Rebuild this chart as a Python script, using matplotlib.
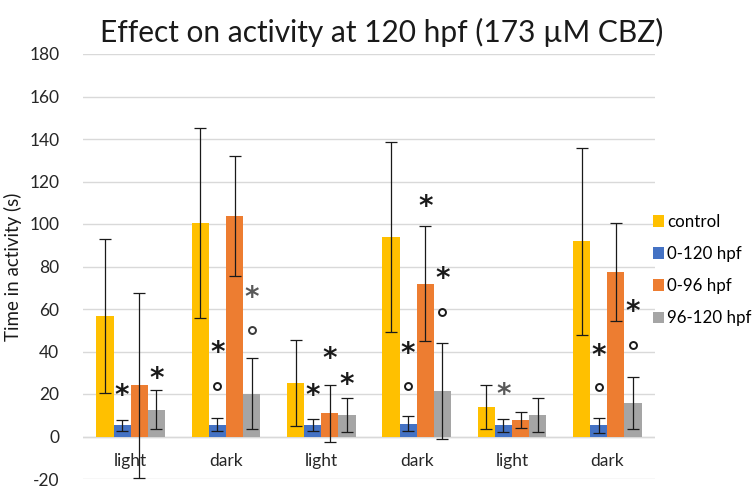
import matplotlib
matplotlib.use("Agg")
import matplotlib.pyplot as plt
from matplotlib.patches import Patch
import numpy as np

plt.rcParams['font.family'] = ['Lato', 'DejaVu Sans']
plt.rcParams['axes.unicode_minus'] = False

categories = ["light", "dark", "light", "dark", "light", "dark"]
series_names = ["control", "0-120 hpf", "0-96 hpf", "96-120 hpf"]
colors = ["#FFC000", "#4472C4", "#ED7D31", "#A5A5A5"]

control = [56.9, 100.7, 25.2, 93.8, 13.8, 91.8]
control_err = [36.2, 44.7, 20.4, 44.7, 10.4, 44.0]
h0_120 = [5.3, 5.6, 5.3, 6.0, 5.3, 5.2]
h0_120_err = [2.6, 3.0, 2.8, 3.6, 3.1, 3.5]
h0_96 = [24.1, 103.9, 10.9, 72.0, 7.8, 77.4]
h0_96_err = [43.5, 28.2, 13.5, 27.2, 3.6, 23.1]
h96_120 = [12.7, 20.2, 10.0, 21.3, 10.0, 15.8]
h96_120_err = [9.0, 16.6, 7.9, 22.5, 7.9, 12.2]

values = [control, h0_120, h0_96, h96_120]
errors = [control_err, h0_120_err, h0_96_err, h96_120_err]

# significance marks: (group, series, y, symbol, color)
mark_group = [0, 0, 1, 1, 1, 1, 2, 2, 2, 3, 3, 3, 3, 3, 4, 5, 5, 5, 5]
mark_series = [1, 3, 1, 1, 3, 3, 1, 2, 3, 1, 1, 2, 3, 3, 1, 1, 1, 3, 3]
mark_y = [22, 30, 42, 23.6, 68, 50, 22, 39.3, 27, 41.7, 23.6, 110.6, 76.8, 58.6, 22.4, 40.9, 23.4, 61.3, 43.2]
mark_sym = ["*", "*", "*", "o", "*", "o", "*", "*", "*", "*", "o", "*", "*", "o", "*", "*", "o", "*", "o"]
mark_col = ["#1a1a1a", "#1a1a1a", "#1a1a1a", "#1a1a1a", "#595959", "#3a3a3a", "#1a1a1a",
            "#1a1a1a", "#1a1a1a", "#1a1a1a", "#1a1a1a", "#1a1a1a", "#1a1a1a", "#1a1a1a",
            "#595959", "#1a1a1a", "#1a1a1a", "#1a1a1a", "#1a1a1a"]

fig = plt.figure(figsize=(7.55, 4.87), dpi=100)
ax = fig.add_axes([83/755, 8/487, (655-83)/755, (479-54)/487])

x = np.arange(len(categories))
w = 0.18
offsets = [-1.5*w, -0.5*w, 0.5*w, 1.5*w]
for i in range(4):
    ax.bar(x + offsets[i], values[i], w, color=colors[i], zorder=2)
    ax.errorbar(x + offsets[i], values[i], yerr=errors[i], fmt='none',
                ecolor='#1a1a1a', elinewidth=0.9, capsize=4, capthick=0.9, zorder=3)

for g, s, yv, sym, c in zip(mark_group, mark_series, mark_y, mark_sym, mark_col):
    xp = g + offsets[s]
    if sym == "*":
        ax.annotate("*", (xp, yv), xytext=(0, -6), textcoords='offset pixels',
                    ha='center', va='center', fontsize=20, fontweight='bold',
                    color=c, family='DejaVu Sans', zorder=4)
    else:
        ax.plot([xp], [yv], marker='o', markersize=5, markerfacecolor='none',
                markeredgecolor=c, markeredgewidth=1.4, zorder=4)

ax.set_xlim(-0.5, 5.5)
ax.set_ylim(-20, 180)
ax.set_yticks(np.arange(-20, 181, 20))
ax.grid(axis='y', color='#D9D9D9', linewidth=1, zorder=0)
ax.axhline(0, color='#D9D9D9', linewidth=1, zorder=1)
for sp in ax.spines.values():
    sp.set_visible(False)
ax.spines['bottom'].set_position(('data', 0))
ax.set_xticks(x)
ax.set_xticklabels(categories)
ax.tick_params(axis='x', length=0, pad=12, labelsize=12.5, colors='#262626')
ax.tick_params(axis='y', length=0, pad=17, labelsize=12.5, colors='#262626')
ax.set_ylabel("Time in activity (s)", fontsize=13.5, color='#1a1a1a', labelpad=5)

fig.text(0.506, 0.934, "Effect on activity at 120 hpf (173 µM CBZ)", ha='center', va='center',
         fontsize=21.5, color='#1a1a1a')

handles = [Patch(facecolor=c, edgecolor='none') for c in colors]
fig.legend(handles, series_names, loc='center left', bbox_to_anchor=(653/755, 1 - 270/487),
           frameon=False, fontsize=12.2, handlelength=0.65, handleheight=0.65,
           handletextpad=0.2, labelspacing=0.95, borderaxespad=0, borderpad=0)

fig.savefig("out.png", dpi=100)
